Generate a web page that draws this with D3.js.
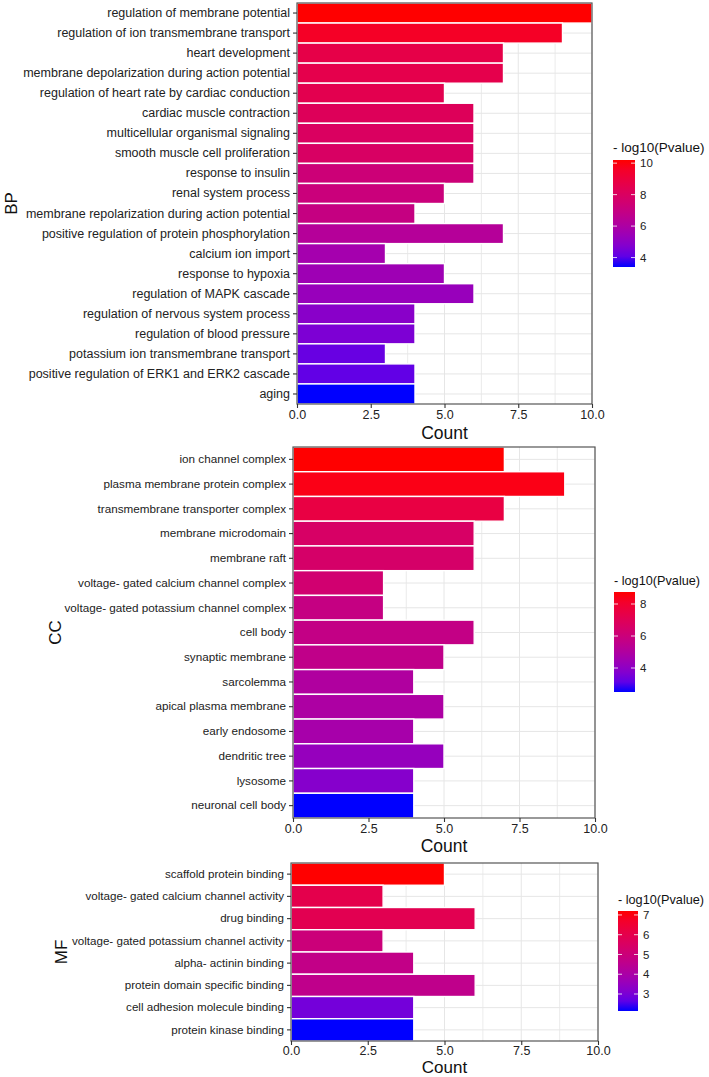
<!DOCTYPE html>
<html>
<head>
<meta charset="utf-8">
<script src="https://cdn.jsdelivr.net/npm/d3@7"></script>
<style>
  html, body { margin: 0; padding: 0; background: #fff; }
  svg { display: block; font-family: "Liberation Sans", Arial, sans-serif; }
</style>
</head>
<body>
<svg id="chart" width="709" height="1077"></svg>
<script>
// ---------------- DATA ----------------
const bpTerms = [
  "regulation of membrane potential",
  "regulation of ion transmembrane transport",
  "heart development",
  "membrane depolarization during action potential",
  "regulation of heart rate by cardiac conduction",
  "cardiac muscle contraction",
  "multicellular organismal signaling",
  "smooth muscle cell proliferation",
  "response to insulin",
  "renal system process",
  "membrane repolarization during action potential",
  "positive regulation of protein phosphorylation",
  "calcium ion import",
  "response to hypoxia",
  "regulation of MAPK cascade",
  "regulation of nervous system process",
  "regulation of blood pressure",
  "potassium ion transmembrane transport",
  "positive regulation of ERK1 and ERK2 cascade",
  "aging"
];
const bpCount = [10, 9, 7, 7, 5, 6, 6, 6, 6, 5, 4, 7, 3, 5, 6, 4, 4, 3, 4, 4];
const bpLogP  = [10.2, 9.6, 8.7, 8.6, 8.5, 8.2, 8.0, 7.9, 7.3, 7.2, 7.0, 6.3, 5.7, 5.5, 5.3, 4.9, 4.6, 4.2, 4.1, 3.4];
const bpLegendTicks = [4, 6, 8, 10];

const ccTerms = [
  "ion channel complex",
  "plasma membrane protein complex",
  "transmembrane transporter complex",
  "membrane microdomain",
  "membrane raft",
  "voltage- gated calcium channel complex",
  "voltage- gated potassium channel complex",
  "cell body",
  "synaptic membrane",
  "sarcolemma",
  "apical plasma membrane",
  "early endosome",
  "dendritic tree",
  "lysosome",
  "neuronal cell body"
];
const ccCount = [7, 9, 7, 6, 6, 3, 3, 6, 5, 4, 5, 4, 5, 4, 4];
const ccLogP  = [8.75, 8.5, 7.5, 6.6, 6.5, 6.3, 5.8, 5.7, 5.6, 5.0, 4.9, 4.7, 4.2, 3.8, 2.5];
const ccLegendTicks = [4, 6, 8];

const mfTerms = [
  "scaffold protein binding",
  "voltage- gated calcium channel activity",
  "drug binding",
  "voltage- gated potassium channel activity",
  "alpha- actinin binding",
  "protein domain specific binding",
  "cell adhesion molecule binding",
  "protein kinase binding"
];
const mfCount = [5, 3, 6, 3, 4, 6, 4, 4];
const mfLogP  = [7.2, 6.0, 5.9, 5.0, 4.7, 4.6, 2.9, 2.14];
const mfLegendTicks = [3, 4, 5, 6, 7];

const xTicks = [0, 2.5, 5, 7.5, 10];
const xGrid = [0, 1.25, 2.5, 3.75, 5, 6.25, 7.5, 8.75, 10];
const xDomain = [0, 10];
const legendTitle = "- log10(Pvalue)";
const xTitle = "Count";

// ---------------- LAYOUT ----------------
const panels = [
  { name: "BP", terms: bpTerms, count: bpCount, logp: bpLogP, legendTicks: bpLegendTicks,
    x0: 297, x1: 592, y0: 3, y1: 404, labelSize: 12.5, titleX: 17, countDy: 34.5, countSize: 17.5, tickPad: 2,
    legX: 613, legW: 22, legY0: 160, legY1: 267, legTitleY: 152, legTitleSize: 13.5 },
  { name: "CC", terms: ccTerms, count: ccCount, logp: ccLogP, legendTicks: ccLegendTicks,
    x0: 293, x1: 595, y0: 447, y1: 818, labelSize: 11.7, titleX: 61, countDy: 33.5, countSize: 17.5, tickPad: 2,
    legX: 614, legW: 21, legY0: 592, legY1: 692, legTitleY: 585, legTitleSize: 12.7 },
  { name: "MF", terms: mfTerms, count: mfCount, logp: mfLogP, legendTicks: mfLegendTicks,
    x0: 291, x1: 598, y0: 863, y1: 1041, labelSize: 11.6, titleX: 67, countDy: 32, countSize: 17, tickPad: 1,
    legX: 618, legW: 20, legY0: 911, legY1: 1011, legTitleY: 904, legTitleSize: 12.7 }
];

const svg = d3.select("#chart");
const defs = svg.append("defs");

panels.forEach((p, pi) => {
  const g = svg.append("g");
  const x = d3.scaleLinear().domain(xDomain).range([p.x0, p.x1]);
  const y = d3.scaleBand().domain(p.terms).range([p.y0, p.y1]).padding(0);
  const ext = d3.extent(p.logp);
  const color = d3.scaleLinear().domain(ext).range(["#0000ff", "#ff0000"]).interpolate(d3.interpolateLab);

  g.append("rect").attr("x", p.x0).attr("y", p.y0).attr("width", p.x1 - p.x0).attr("height", p.y1 - p.y0)
    .attr("fill", "#fff");

  g.selectAll(".vg").data(xGrid).join("line")
    .attr("x1", d => x(d)).attr("x2", d => x(d)).attr("y1", p.y0).attr("y2", p.y1)
    .attr("stroke", "#e6e6e6").attr("stroke-width", (d) => (d % 2.5 === 0 ? 1 : 0.8));
  g.selectAll(".hg").data(p.terms).join("line")
    .attr("x1", p.x0).attr("x2", p.x1)
    .attr("y1", d => y(d) + y.bandwidth() / 2).attr("y2", d => y(d) + y.bandwidth() / 2)
    .attr("stroke", "#e6e6e6").attr("stroke-width", 1);

  g.selectAll(".bar").data(p.terms).join("rect")
    .attr("x", x(0))
    .attr("y", d => y(d))
    .attr("width", (d, i) => x(p.count[i]) - x(0))
    .attr("height", y.bandwidth())
    .attr("fill", (d, i) => color(p.logp[i]))
    .attr("stroke", "#ffffff").attr("stroke-width", 1.4);

  g.append("rect").attr("x", p.x0).attr("y", p.y0).attr("width", p.x1 - p.x0).attr("height", p.y1 - p.y0)
    .attr("fill", "none").attr("stroke", "#555").attr("stroke-width", 1.2);

  const yAxis = d3.axisLeft(y).tickSize(4).tickPadding(3);
  const ya = g.append("g").attr("transform", `translate(${p.x0},0)`).call(yAxis);
  ya.select(".domain").remove();
  ya.selectAll(".tick line").attr("stroke", "#333").attr("stroke-width", 1.1);
  ya.selectAll(".tick text").attr("fill", "#222").attr("font-size", p.labelSize)
    .attr("font-family", "Liberation Sans, Arial, sans-serif");

  const xAxis = d3.axisBottom(x).tickValues(xTicks).tickFormat(d3.format(".1f")).tickSize(4).tickPadding(p.tickPad);
  const xa = g.append("g").attr("transform", `translate(0,${p.y1})`).call(xAxis);
  xa.select(".domain").remove();
  xa.selectAll(".tick line").attr("stroke", "#333").attr("stroke-width", 1.1);
  xa.selectAll(".tick text").attr("fill", "#222").attr("font-size", 12.5)
    .attr("font-family", "Liberation Sans, Arial, sans-serif");

  g.append("text").attr("x", (p.x0 + p.x1) / 2).attr("y", p.y1 + p.countDy)
    .attr("text-anchor", "middle").attr("font-size", p.countSize).attr("fill", "#111").text(xTitle);

  g.append("text")
    .attr("transform", `translate(${p.titleX},${(p.y0 + p.y1) / 2}) rotate(-90)`)
    .attr("text-anchor", "middle").attr("font-size", 17).attr("fill", "#111").text(p.name);

  const gid = "grad" + pi;
  const grad = defs.append("linearGradient").attr("id", gid)
    .attr("x1", 0).attr("y1", 1).attr("x2", 0).attr("y2", 0);
  d3.range(0, 11).forEach(k => {
    const v = ext[0] + (ext[1] - ext[0]) * k / 10;
    grad.append("stop").attr("offset", (k * 10) + "%").attr("stop-color", color(v));
  });
  const ly = d3.scaleLinear().domain(ext).range([p.legY1, p.legY0]);
  g.append("text").attr("x", p.legX).attr("y", p.legTitleY)
    .attr("font-size", p.legTitleSize).attr("fill", "#111").text(legendTitle);
  g.append("rect").attr("x", p.legX).attr("y", p.legY0).attr("width", p.legW).attr("height", p.legY1 - p.legY0)
    .attr("fill", `url(#${gid})`);
  p.legendTicks.forEach(t => {
    g.append("line").attr("x1", p.legX).attr("x2", p.legX + 4).attr("y1", ly(t)).attr("y2", ly(t))
      .attr("stroke", "#fff").attr("stroke-width", 0.8);
    g.append("line").attr("x1", p.legX + p.legW - 4).attr("x2", p.legX + p.legW).attr("y1", ly(t)).attr("y2", ly(t))
      .attr("stroke", "#fff").attr("stroke-width", 0.8);
    g.append("text").attr("x", p.legX + p.legW + 5).attr("y", ly(t)).attr("dy", "0.35em")
      .attr("font-size", 11.5).attr("fill", "#222").text(t);
  });
});
</script>
</body>
</html>
